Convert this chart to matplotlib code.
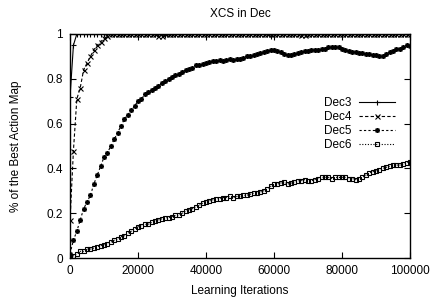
import numpy as np
import matplotlib

matplotlib.use("Agg")
import matplotlib.pyplot as plt

plt.rcParams["font.family"] = ["Liberation Sans", "DejaVu Sans"]
plt.rcParams["font.size"] = 8.5

# learning iterations, one sample every 1000
iterations = np.arange(0, 100001, 1000)

dec3 = [
    0.72, 0.95, 1.0, 1.0, 1.0, 1.0, 1.0, 1.0, 1.0, 1.0,
    1.0, 1.0, 1.0, 1.0, 1.0, 1.0, 1.0, 1.0, 1.0, 1.0,
    1.0, 1.0, 1.0, 1.0, 1.0, 1.0, 1.0, 1.0, 0.995, 1.0,
    1.0, 1.0, 1.0, 1.0, 1.0, 1.0, 1.0, 1.0, 1.0, 1.0,
    1.0, 1.0, 1.0, 1.0, 1.0, 1.0, 1.0, 1.0, 1.0, 1.0,
    1.0, 1.0, 1.0, 1.0, 1.0, 1.0, 1.0, 1.0, 1.0, 0.99,
    1.0, 1.0, 1.0, 1.0, 1.0, 1.0, 1.0, 1.0, 1.0, 1.0,
    1.0, 1.0, 1.0, 1.0, 1.0, 1.0, 1.0, 1.0, 1.0, 1.0,
    1.0, 1.0, 1.0, 1.0, 1.0, 1.0, 1.0, 1.0, 1.0, 1.0,
    1.0, 1.0, 1.0, 1.0, 1.0, 1.0, 1.0, 1.0, 1.0, 1.0,
    1.0,
]

dec4 = [
    0.17, 0.48, 0.71, 0.76, 0.84, 0.87, 0.90, 0.93, 0.95, 0.965,
    0.98, 0.99, 1.0, 1.0, 1.0, 1.0, 1.0, 1.0, 1.0, 1.0,
    1.0, 1.0, 1.0, 1.0, 1.0, 1.0, 0.99, 0.99, 1.0, 1.0,
    1.0, 1.0, 1.0, 1.0, 1.0, 1.0, 1.0, 1.0, 1.0, 1.0,
    1.0, 1.0, 1.0, 1.0, 1.0, 1.0, 1.0, 1.0, 1.0, 1.0,
    1.0, 1.0, 1.0, 1.0, 1.0, 1.0, 1.0, 1.0, 1.0, 1.0,
    1.0, 1.0, 1.0, 1.0, 1.0, 1.0, 1.0, 1.0, 0.995, 0.995,
    1.0, 1.0, 1.0, 1.0, 1.0, 1.0, 1.0, 1.0, 1.0, 1.0,
    1.0, 1.0, 1.0, 1.0, 1.0, 1.0, 1.0, 1.0, 1.0, 1.0,
    1.0, 1.0, 1.0, 1.0, 1.0, 1.0, 1.0, 1.0, 1.0, 1.0,
    1.0,
]

dec5 = [
    0.02, 0.08, 0.12, 0.17, 0.22, 0.25, 0.28, 0.33, 0.37, 0.41,
    0.45, 0.47, 0.50, 0.53, 0.56, 0.59, 0.62, 0.64, 0.66, 0.68,
    0.70, 0.71, 0.73, 0.74, 0.75, 0.76, 0.77, 0.78, 0.79, 0.80,
    0.81, 0.815, 0.82, 0.83, 0.84, 0.845, 0.85, 0.86, 0.86, 0.865,
    0.87, 0.875, 0.88, 0.88, 0.885, 0.88, 0.885, 0.89, 0.885, 0.89,
    0.89, 0.895, 0.90, 0.90, 0.905, 0.91, 0.915, 0.92, 0.925, 0.93,
    0.93, 0.925, 0.92, 0.91, 0.905, 0.905, 0.91, 0.915, 0.92, 0.925,
    0.925, 0.93, 0.93, 0.93, 0.935, 0.935, 0.94, 0.94, 0.94, 0.94,
    0.935, 0.93, 0.925, 0.92, 0.92, 0.915, 0.915, 0.91, 0.91, 0.905,
    0.905, 0.90, 0.90, 0.91, 0.92, 0.925, 0.935, 0.935, 0.94, 0.95,
    0.945,
]

dec6 = [
    0.01, 0.01, 0.02, 0.03, 0.03, 0.04, 0.04, 0.045, 0.05, 0.055,
    0.06, 0.065, 0.07, 0.08, 0.085, 0.095, 0.10, 0.11, 0.12, 0.13,
    0.14, 0.145, 0.15, 0.15, 0.16, 0.165, 0.17, 0.175, 0.18, 0.18,
    0.185, 0.19, 0.19, 0.20, 0.21, 0.215, 0.22, 0.23, 0.235, 0.245,
    0.25, 0.255, 0.26, 0.265, 0.265, 0.27, 0.27, 0.275, 0.27, 0.275,
    0.275, 0.28, 0.28, 0.285, 0.29, 0.29, 0.295, 0.30, 0.31, 0.32,
    0.33, 0.33, 0.335, 0.34, 0.33, 0.335, 0.34, 0.345, 0.345, 0.35,
    0.345, 0.345, 0.35, 0.355, 0.36, 0.36, 0.36, 0.355, 0.36, 0.36,
    0.36, 0.36, 0.355, 0.355, 0.35, 0.355, 0.36, 0.37, 0.38, 0.385,
    0.39, 0.395, 0.40, 0.405, 0.41, 0.415, 0.415, 0.415, 0.42, 0.425,
    0.43,
]

# gnuplot-like point types: +, x, asterisk, open square
series = [
    ("Dec3", dec3, "-", "+"),
    ("Dec4", dec4, (0, (3, 2)), "x"),
    ("Dec5", dec5, (0, (2, 2)), (8, 2, 0)),
    ("Dec6", dec6, (0, (1, 1.5)), "s"),
]

fig = plt.figure(figsize=(4.35, 2.98), dpi=100)
ax = fig.add_axes([0.161, 0.134, 0.7815, 0.752])

for label, values, style, marker in series:
    is_square = marker == "s"
    ax.plot(
        iterations,
        values,
        color="black",
        linestyle=style,
        linewidth=0.8,
        marker=marker,
        markersize=3.2 if is_square else 3.6,
        markerfacecolor="none" if is_square else "black",
        markeredgewidth=0.8,
        label=label,
    )

ax.set_xlim(0, 100000)
ax.set_ylim(0, 1)
ax.set_xticks([0, 20000, 40000, 60000, 80000, 100000])
ax.set_yticks([0, 0.2, 0.4, 0.6, 0.8, 1.0])
ax.set_yticklabels(["0", "0.2", "0.4", "0.6", "0.8", "1"])
ax.tick_params(direction="in", top=True, right=True, length=4, width=0.8, pad=5)
for spine in ax.spines.values():
    spine.set_linewidth(1.0)

ax.set_title("XCS in Dec", fontsize=8.5, pad=12)
ax.set_xlabel("Learning Iterations", labelpad=6)
ax.set_ylabel("% of the Best Action Map", labelpad=18)

leg = ax.legend(
    loc="upper right",
    bbox_to_anchor=(0.969, 0.738),
    frameon=False,
    markerfirst=False,
    handlelength=3.05,
    handletextpad=0.6,
    labelspacing=0.15,
    borderaxespad=0,
)

fig.savefig("out.png", dpi=100)
plt.close(fig)
